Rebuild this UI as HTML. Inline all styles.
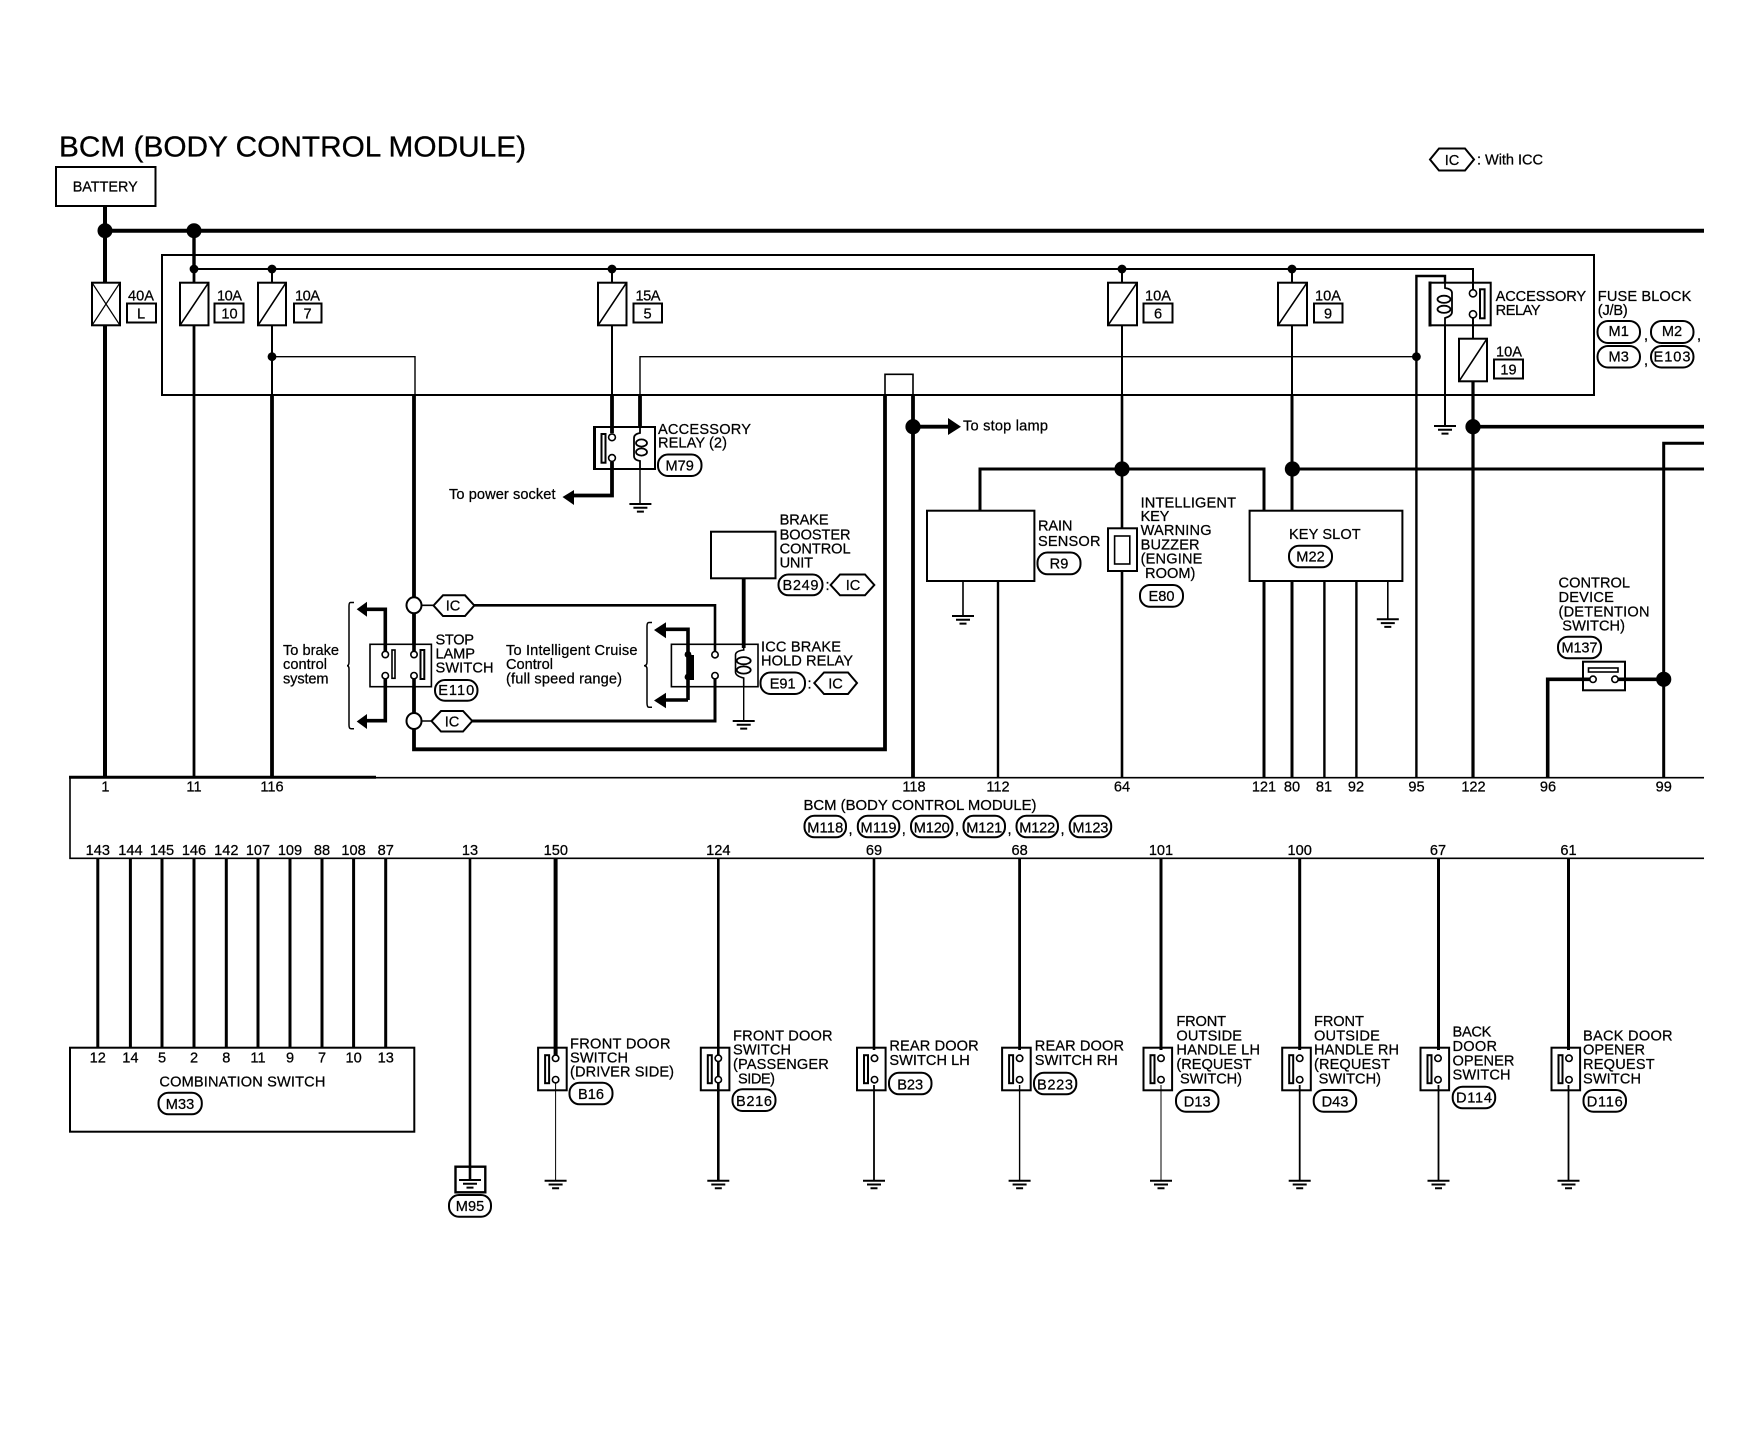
<!DOCTYPE html>
<html><head><meta charset="utf-8"><title>BCM</title>
<style>
html,body{margin:0;padding:0;background:#fff;width:1750px;height:1456px;overflow:hidden}
svg{display:block}
text{font-family:"Liberation Sans",Arial,sans-serif;font-size:14.6px;fill:#000;stroke:#000;stroke-width:.25}
.m{text-anchor:middle}
.w{fill:none;stroke:#000}
.o{fill:#fff;stroke:#000;stroke-width:2}
.f{fill:#000;stroke:none}
</style></head><body>
<svg width="1750" height="1456" viewBox="0 0 1750 1456" xmlns="http://www.w3.org/2000/svg">
<defs>
<g id="g" class="w" stroke-width="2"><path d="M-11 0h22M-7 3.8h14M-3.5 7.6h7"/></g>
<g id="sw">
<rect x="-17.5" y="0" width="28.6" height="42.6" class="o" fill="none" style="fill:none"/>
<rect x="-10.5" y="7.5" width="4" height="28" class="w" stroke-width="2"/>
<circle cx="0" cy="10.6" r="3.2" fill="#fff" stroke="#000" stroke-width="1.6"/>
<circle cx="0" cy="32" r="3.2" fill="#fff" stroke="#000" stroke-width="1.6"/>
</g>
</defs>
<rect width="1750" height="1456" fill="#fff"/>

<!-- Title -->
<text x="59" y="156.7" textLength="467" lengthAdjust="spacingAndGlyphs" style="font-size:29px;stroke-width:.3">BCM (BODY CONTROL MODULE)</text>
<rect x="56" y="167" width="99.5" height="39" class="o" style="fill:none"/>
<text x="72.7" y="191.7" textLength="65" lengthAdjust="spacingAndGlyphs">BATTERY</text>
<polygon points="1430,159.5 1439,148.5 1465,148.5 1474,159.5 1465,170.5 1439,170.5" class="o"/>
<text x="1452" y="165" class="m">IC</text>
<text x="1477" y="164.5" textLength="66">: With ICC</text>

<!-- Fuse block box -->
<rect x="162" y="255" width="1432" height="140" class="o" style="fill:none"/>

<!-- Main buses -->
<g class="w">
<path stroke-width="4" d="M105 206V282.7M105 325.3V777.7M105 230.7H1704"/>
<path stroke-width="2" d="M194 269H1473V293M612 269V282.7M272 269V282.7M1122 269V282.7M1292 269V282.7"/>
<path stroke-width="3.4" d="M194 230.7V269"/>
<path stroke-width="2.8" d="M194 269V282.7M194 325.3V777.7"/>
<path stroke-width="2" d="M272 325.3V395M612 325.3V395M1122 325.3V395M1292 325.3V395"/>
<path stroke-width="3.8" d="M272 395V777.7"/>
<path stroke-width="1.4" d="M272 356.7H415V395M640 395V356.7H1416.4"/>
<path stroke-width="3.8" d="M414 395V645M414 686V749.3H885V395"/>
<path stroke-width="3.8" d="M640 395V427"/>
<path stroke-width="3.8" d="M612 395V433"/>
<path stroke-width="3.8" d="M612 462V495.5H572"/>
<path stroke-width="1.4" d="M640 469V504"/>
<path stroke-width="1.6" d="M885 395V374.3H913V395"/>
<path stroke-width="3.8" d="M913 395V777.7M913 426.7H950"/>
<path stroke-width="2.6" d="M1122 395V528M1122 571V777.7"/>
<path stroke-width="3" d="M980 510.7V469H1264V777.7"/>
<path stroke-width="3" d="M1292 395V777.7M1292 469H1704"/>
<path stroke-width="2.4" d="M998 581V777.7M1324.4 581V777.7M1356.4 581V777.7"/>
<path stroke-width="1.6" d="M963 581V616M1387.8 581V619"/>
<path stroke-width="2.4" d="M1416.4 777.7V276H1445V283"/>
<path stroke-width="2" d="M1445 325V426"/>
<path stroke-width="2" d="M1473 314V338.7"/>
<path stroke-width="3.2" d="M1473 381V777.7"/>
<path stroke-width="3.6" d="M1473 426.7H1704"/>
<path stroke-width="3" d="M1704 443.3H1663.7V777.7"/>
<path stroke-width="3.6" d="M1663.7 679.3H1625M1590 679.3H1547.7V777.7"/>
<!-- ICC -->
<path stroke-width="1.6" d="M421 605.3H434M421 721H432"/>
<path stroke-width="2.6" d="M474 605.3H715V651"/>
<path stroke-width="3" d="M472 721H715V679"/>
<path stroke-width="3.8" d="M743.7 578V648"/>
<path stroke-width="1.4" d="M743.7 680V721"/>
<path stroke-width="3.6" d="M385.3 650V609.3H365M385.3 680V720.7H365"/>
<path stroke-width="3.6" d="M688 700V629.3H664M688 700H664"/>
<path stroke-width="5" d="M691.5 655V680"/>
<path stroke-width="1.5" d="M354 602.5H350.5Q349 602.5 349 606V662Q349 665.7 347 665.7Q349 665.7 349 669V725Q349 728.7 351 728.7H354"/>
<path stroke-width="1.5" d="M652 622.5H649Q647 622.5 647 626V662Q647 665.7 644 665.7Q647 665.7 647 669V703Q647 707.3 649 707.3H652"/>
</g>

<!-- Junctions -->
<g class="f">
<circle cx="105" cy="230.7" r="7.5"/><circle cx="194" cy="230.7" r="7.5"/>
<circle cx="194" cy="269" r="4.4"/><circle cx="272" cy="269" r="4.4"/><circle cx="612" cy="269" r="4.4"/><circle cx="1122" cy="269" r="4.4"/><circle cx="1292" cy="269" r="4.4"/>
<circle cx="272" cy="356.7" r="4.4"/><circle cx="1416.4" cy="356.7" r="4.4"/>
<circle cx="913" cy="426.7" r="7.6"/><circle cx="1122" cy="469" r="7.6"/><circle cx="1292.4" cy="469" r="7.6"/><circle cx="1473" cy="426.7" r="7.6"/><circle cx="1663.7" cy="679.3" r="7.6"/>
<polygon points="948,418 961,426.7 948,435"/>
<polygon points="562.5,497 574,490 574,505"/>
<polygon points="356.7,609.3 367,601.7 367,616.7"/>
<polygon points="356.7,721.5 367,714 367,729"/>
<polygon points="654,630 666,622.3 666,638.3"/>
<polygon points="654,700.5 666,692.7 666,708.3"/>
</g>

<!-- Fuses -->
<g class="o" style="fill:#fff">
<rect x="92" y="282.7" width="28" height="42.6"/><rect x="180" y="282.7" width="28.5" height="42.6"/><rect x="258" y="282.7" width="28" height="42.6"/><rect x="598" y="282.7" width="28.5" height="42.6"/><rect x="1108" y="282.7" width="29" height="42.6"/><rect x="1278" y="282.7" width="29" height="42.6"/><rect x="1459" y="338.7" width="28" height="42.6"/>
</g>
<path class="w" stroke-width="1.3" d="M92 282.7L120 325.3M120 282.7L92 325.3"/>
<path class="w" stroke-width="1.6" d="M180 325.3L208.5 282.7M258 325.3L286 282.7M598 325.3L626.5 282.7M1108 325.3L1137 282.7M1278 325.3L1307 282.7M1459 381.3L1487 338.7"/>

<!-- Fuse labels -->
<g class="o" style="fill:none">
<rect x="127" y="303.5" width="29" height="19"/><rect x="214.5" y="303.5" width="29" height="19"/><rect x="294" y="303.5" width="27.5" height="19"/><rect x="633.5" y="303.5" width="28.5" height="19"/><rect x="1143.5" y="303.5" width="29" height="19"/><rect x="1314" y="303.5" width="28.5" height="19"/><rect x="1494" y="359.5" width="29" height="19"/>
</g>
<g class="m">
<text x="141" y="300.7" textLength="26">40A</text><text x="229.5" y="300.7" textLength="25">10A</text><text x="307.5" y="300.7" textLength="25">10A</text><text x="648" y="300.7" textLength="25">15A</text><text x="1158" y="300.7" textLength="26">10A</text><text x="1328" y="300.7" textLength="26">10A</text><text x="1509" y="356.7" textLength="26">10A</text>
<text x="141" y="318.3">L</text><text x="229.5" y="318.3">10</text><text x="307.5" y="318.3">7</text><text x="647.5" y="318.3">5</text><text x="1158" y="318.3">6</text><text x="1328" y="318.3">9</text><text x="1508.5" y="374.3">19</text>
</g>

<!-- Relay (2) -->
<rect x="594.5" y="427" width="60.5" height="42" class="w" stroke-width="2"/>
<path class="w" stroke-width="3" d="M594.5 426V470"/>
<rect x="601.5" y="434" width="4" height="28.7" class="w" stroke-width="2"/>
<circle cx="612" cy="437.3" r="3.4" fill="#fff" stroke="#000" stroke-width="1.6"/><circle cx="612" cy="458" r="3.4" fill="#fff" stroke="#000" stroke-width="1.6"/>
<path class="w" stroke-width="1.8" d="M640 427V433Q634 434 634 438V456Q634 460 640 461V469"/>
<ellipse cx="641.5" cy="443" rx="5.5" ry="3.6" class="w" stroke-width="1.8"/><ellipse cx="641.5" cy="452" rx="5.5" ry="3.6" class="w" stroke-width="1.8"/>
<use href="#g" x="640.4" y="504"/>
<text x="658" y="434" textLength="93">ACCESSORY</text><text x="658" y="447.7" textLength="69">RELAY (2)</text>
<rect x="658" y="454.5" width="43.5" height="21.5" rx="10" class="o" style="fill:none"/><text x="679.7" y="470.7" class="m">M79</text>
<text x="449" y="499" textLength="106.5">To power socket</text>
<text x="963" y="430.7" textLength="85">To stop lamp</text>

<!-- Accessory relay -->
<rect x="1430" y="282.7" width="60.7" height="42.6" class="w" stroke-width="2"/>
<path class="w" stroke-width="3" d="M1430 281.5V326.5"/>
<rect x="1480" y="289.3" width="4.6" height="29" class="w" stroke-width="2"/>
<circle cx="1473" cy="293.3" r="3.6" fill="#fff" stroke="#000" stroke-width="1.6"/><circle cx="1473" cy="314.3" r="3.6" fill="#fff" stroke="#000" stroke-width="1.6"/>
<path class="w" stroke-width="1.8" d="M1445 283V288Q1452 289 1452 293V312Q1452 316 1445 318V325"/>
<ellipse cx="1444" cy="299.3" rx="6.5" ry="3.6" class="w" stroke-width="1.8"/><ellipse cx="1444" cy="309.3" rx="6.5" ry="3.6" class="w" stroke-width="1.8"/>
<use href="#g" x="1445" y="426"/>
<text x="1495.6" y="301" textLength="90.5">ACCESSORY</text><text x="1495.6" y="315" textLength="45">RELAY</text>
<text x="1597.8" y="301" textLength="93.5">FUSE BLOCK</text><text x="1597.8" y="315" textLength="30">(J/B)</text>
<g class="o" style="fill:none"><rect x="1597.5" y="321" width="42.5" height="22" rx="10.5"/><rect x="1651" y="321" width="42.5" height="22" rx="10.5"/><rect x="1597.5" y="346" width="42.5" height="21.5" rx="10.5"/><rect x="1651" y="346" width="42.5" height="21.5" rx="10.5"/></g>
<g class="m"><text x="1618.7" y="336">M1</text><text x="1672" y="336">M2</text><text x="1618.7" y="361.7">M3</text><text x="1672" y="361.7" textLength="37">E103</text></g>
<text x="1644" y="340">,</text><text x="1697" y="340">,</text><text x="1644" y="365">,</text>

<!-- Stop lamp switch -->
<rect x="370" y="644.3" width="61.4" height="42.4" class="w" stroke-width="1.6" style="fill:#fff"/>
<path class="w" stroke-width="1.6" d="M385.3 650v3M414 650v3M385.3 676v6M414 676v6M715 648v4M715 676v5"/>
<rect x="392" y="650" width="3" height="28.3" class="w" stroke-width="1.6"/>
<rect x="420.5" y="650" width="3.8" height="29" class="w" stroke-width="2"/>
<g fill="#fff" stroke="#000" stroke-width="1.6"><circle cx="385.3" cy="654.5" r="3.2"/><circle cx="385.3" cy="675.7" r="3.2"/><circle cx="414" cy="654.5" r="3.2"/><circle cx="414" cy="675.7" r="3.2"/></g>
<path class="w" stroke-width="3.6" d="M385.3 644.5V651M385.3 679V687M414 644.5V651M414 679V687"/>
<ellipse cx="414" cy="605.3" rx="7.5" ry="8" fill="#fff" stroke="#000" stroke-width="2"/>
<ellipse cx="414" cy="721" rx="7.5" ry="8" fill="#fff" stroke="#000" stroke-width="2"/>
<polygon points="433.5,605.5 443,595.3 465,595.3 474.3,605.5 465,616 443,616" class="o"/><text x="453" y="610.7" class="m">IC</text>
<polygon points="431.5,721 441,711 463,711 472.3,721 463,731.5 441,731.5" class="o"/><text x="452" y="726.5" class="m">IC</text>
<text x="283" y="655" textLength="56">To brake</text><text x="283" y="669" textLength="44">control</text><text x="283" y="683.3" textLength="45.6">system</text>
<text x="435.5" y="644.3" textLength="38.5">STOP</text><text x="435.5" y="658.3" textLength="39.5">LAMP</text><text x="435.5" y="672.3" textLength="58">SWITCH</text>
<rect x="435" y="680" width="42.5" height="20.7" rx="10" class="o" style="fill:none"/><text x="456.2" y="695" class="m" textLength="36">E110</text>

<!-- ICC brake hold relay -->
<text x="506" y="655" textLength="131.5">To Intelligent Cruise</text><text x="506" y="669" textLength="47">Control</text><text x="506" y="683.3" textLength="116">(full speed range)</text>
<rect x="671.4" y="644.3" width="86.6" height="42.4" class="w" stroke-width="1.6"/>
<g fill="#fff" stroke="#000" stroke-width="1.6"><circle cx="715" cy="654.7" r="3.2"/><circle cx="715" cy="675.7" r="3.2"/></g>
<circle cx="688" cy="654.5" r="3.4" class="f"/><circle cx="688" cy="677" r="3.4" class="f"/>
<path class="w" stroke-width="1.6" d="M743.7 648V650Q735.5 651 735.5 655V672Q735.5 676 743.7 678V686"/>
<ellipse cx="743.7" cy="660.7" rx="7" ry="3.6" class="w" stroke-width="1.8"/><ellipse cx="743.7" cy="670" rx="7" ry="3.6" class="w" stroke-width="1.8"/>
<use href="#g" x="743.7" y="721"/>
<rect x="711" y="531.7" width="64.5" height="46.6" class="w" stroke-width="2" style="fill:#fff"/>
<text x="779.6" y="524.7" textLength="49">BRAKE</text><text x="779.6" y="539.3" textLength="71">BOOSTER</text><text x="779.6" y="553.3" textLength="71">CONTROL</text><text x="779.6" y="567.3" textLength="33.4">UNIT</text>
<rect x="778.5" y="574.5" width="44" height="20.8" rx="10" class="o" style="fill:none"/><text x="800.5" y="590" class="m" textLength="36">B249</text>
<text x="825.5" y="590">:</text>
<polygon points="830.6,585 840,574.5 865,574.5 874.3,585 865,595.3 840,595.3" class="o"/><text x="853" y="590" class="m">IC</text>
<text x="761" y="651.7" textLength="80">ICC BRAKE</text><text x="761" y="665.7" textLength="92">HOLD RELAY</text>
<rect x="760.5" y="672.5" width="44.5" height="21.5" rx="10" class="o" style="fill:none"/><text x="782.7" y="688.3" class="m">E91</text>
<text x="807.5" y="688.3">:</text>
<polygon points="814.3,683 824,672.5 848,672.5 857,683 848,694 824,694" class="o"/><text x="835.5" y="688.3" class="m">IC</text>

<!-- Rain sensor -->
<rect x="927" y="510.7" width="107.4" height="70.3" class="w" stroke-width="2"/>
<use href="#g" x="963" y="616"/>
<text x="1038" y="530.7" textLength="34.4">RAIN</text><text x="1038" y="546" textLength="62.5">SENSOR</text>
<rect x="1037.5" y="552.5" width="43" height="21.8" rx="10" class="o" style="fill:none"/><text x="1059" y="568.3" class="m">R9</text>

<!-- Buzzer -->
<rect x="1108" y="528.3" width="29" height="42.7" class="w" stroke-width="2"/>
<rect x="1114.6" y="536" width="15.2" height="28" class="w" stroke-width="1.6"/>
<text x="1140.6" y="507.3" textLength="95.4">INTELLIGENT</text><text x="1140.6" y="521" textLength="28.8">KEY</text><text x="1140.6" y="535" textLength="71">WARNING</text><text x="1140.6" y="549.3" textLength="59">BUZZER</text><text x="1140.6" y="563.7" textLength="61.8">(ENGINE</text><text x="1145" y="578" textLength="50.4">ROOM)</text>
<rect x="1140" y="585" width="43" height="21.7" rx="10" class="o" style="fill:none"/><text x="1161.5" y="601" class="m">E80</text>

<!-- Key slot -->
<rect x="1249.6" y="510.7" width="152.8" height="70.3" class="o"/>
<text x="1289" y="539" textLength="71.7">KEY SLOT</text>
<rect x="1289" y="545.7" width="43" height="21.6" rx="10" class="o" style="fill:none"/><text x="1310.5" y="561.7" class="m">M22</text>
<use href="#g" x="1387.8" y="619.3"/>

<!-- Detention switch -->
<rect x="1583" y="661.7" width="42" height="28.6" class="o"/>
<rect x="1588.5" y="668" width="29.5" height="4" class="w" stroke-width="1.6"/>
<g fill="#fff" stroke="#000" stroke-width="1.6"><circle cx="1593" cy="679.3" r="3.2"/><circle cx="1615" cy="679.3" r="3.2"/></g>
<path class="w" stroke-width="3.6" d="M1583 679.3H1590M1618 679.3H1625"/>
<text x="1558.5" y="587.7" textLength="71.5">CONTROL</text><text x="1558.5" y="602" textLength="55.3">DEVICE</text><text x="1558.5" y="616.3" textLength="91">(DETENTION</text><text x="1562.3" y="630.3" textLength="62.7">SWITCH)</text>
<rect x="1558" y="636.7" width="43" height="21.6" rx="10" class="o" style="fill:none"/><text x="1579.5" y="652.7" class="m" textLength="36">M137</text>

<!-- BCM -->
<path class="w" stroke-width="1.6" d="M376 777.7H1704"/>
<path class="w" stroke-width="3" d="M69 777.2H376"/>
<path class="w" stroke-width="1.6" d="M70 777V858.3H1704"/>
<g class="m">
<text x="105.4" y="791.5">1</text><text x="194" y="791.5">11</text><text x="272" y="791.5">116</text><text x="914" y="791.5">118</text><text x="998" y="791.5">112</text><text x="1122" y="791.5">64</text><text x="1264" y="791.5">121</text><text x="1292" y="791.5">80</text><text x="1324" y="791.5">81</text><text x="1356" y="791.5">92</text><text x="1416.5" y="791.5">95</text><text x="1473.5" y="791.5">122</text><text x="1548" y="791.5">96</text><text x="1663.7" y="791.5">99</text>
</g>
<text x="803.5" y="810" textLength="233" lengthAdjust="spacingAndGlyphs">BCM (BODY CONTROL MODULE)</text>
<g class="o" style="fill:none">
<rect x="804.5" y="815.7" width="41.5" height="21.6" rx="10"/><rect x="857.8" y="815.7" width="41.5" height="21.6" rx="10"/><rect x="911" y="815.7" width="41.5" height="21.6" rx="10"/><rect x="963.5" y="815.7" width="41.5" height="21.6" rx="10"/><rect x="1016.5" y="815.7" width="41.5" height="21.6" rx="10"/><rect x="1069.7" y="815.7" width="41.5" height="21.6" rx="10"/>
</g>
<g class="m">
<text x="825.2" y="832.3" textLength="36">M118</text><text x="878.5" y="832.3" textLength="36">M119</text><text x="931.8" y="832.3" textLength="36">M120</text><text x="984.2" y="832.3" textLength="36">M121</text><text x="1037.2" y="832.3" textLength="36">M122</text><text x="1090.4" y="832.3" textLength="36">M123</text>
</g>
<text x="848.5" y="834">,</text><text x="901.8" y="834">,</text><text x="955" y="834">,</text><text x="1007.5" y="834">,</text><text x="1060.5" y="834">,</text>
<g class="m">
<text x="97.8" y="855">143</text><text x="130.4" y="855">144</text><text x="162" y="855">145</text><text x="194" y="855">146</text><text x="226.3" y="855">142</text><text x="258" y="855">107</text><text x="290" y="855">109</text><text x="322" y="855">88</text><text x="353.6" y="855">108</text><text x="385.7" y="855">87</text><text x="470" y="855">13</text><text x="555.8" y="855">150</text><text x="718.3" y="855">124</text><text x="874" y="855">69</text><text x="1019.6" y="855">68</text><text x="1161" y="855">101</text><text x="1299.7" y="855">100</text><text x="1438" y="855">67</text><text x="1568.5" y="855">61</text>
</g>

<!-- Lower wires -->
<path class="w" stroke-width="3" d="M97.8 858V1048M130.4 858V1048M162 858V1048M194 858V1048M226.3 858V1048M258 858V1048M290 858V1048M322 858V1048M353.6 858V1048M385.7 858V1048"/>
<path class="w" stroke-width="2.6" d="M470 858V1180"/>
<path class="w" stroke-width="4" d="M555.6 858V1055"/>
<path class="w" stroke-width="1" d="M555.6 1082V1180.7"/>
<path class="w" stroke-width="2.6" d="M718.3 858V1180.7"/>
<path class="w" stroke-width="2.6" d="M874 858V1050"/>
<path class="w" stroke-width="1.8" d="M874 1085V1180.7"/>
<path class="w" stroke-width="2.8" d="M1019.6 858V1050"/>
<path class="w" stroke-width="1.4" d="M1019.6 1085V1180.7"/>
<path class="w" stroke-width="3" d="M1161 858V1050M1299.7 858V1050M1438.5 858V1050M1568.5 858V1050"/>
<path class="w" stroke-width="1" d="M1161 1085V1180.7"/>
<path class="w" stroke-width="1.8" d="M1299.7 1085V1180.7M1438.5 1085V1180.7M1568.5 1085V1180.7"/>

<!-- Combination switch -->
<rect x="70" y="1047.7" width="344.3" height="84" class="w" stroke-width="2"/>
<g class="m">
<text x="97.8" y="1062.3">12</text><text x="130.4" y="1062.3">14</text><text x="162" y="1062.3">5</text><text x="194" y="1062.3">2</text><text x="226.3" y="1062.3">8</text><text x="258" y="1062.3">11</text><text x="290" y="1062.3">9</text><text x="322" y="1062.3">7</text><text x="353.6" y="1062.3">10</text><text x="385.7" y="1062.3">13</text>
</g>
<text x="159.4" y="1086.7" textLength="166">COMBINATION SWITCH</text>
<rect x="158.5" y="1092.7" width="43.3" height="21.6" rx="10" class="o" style="fill:none"/><text x="180" y="1109" class="m">M33</text>

<!-- M95 ground -->
<rect x="455.5" y="1166.7" width="29.8" height="25.6" class="w" stroke-width="2.4"/>
<use href="#g" x="470" y="1180"/>
<rect x="449" y="1195" width="42" height="21.7" rx="10" class="o" style="fill:none"/><text x="470" y="1211" class="m">M95</text>

<!-- Door switches -->
<use href="#sw" x="555.6" y="1047.7"/><use href="#g" x="555.6" y="1180.7"/>
<use href="#sw" x="718.3" y="1047.7"/><use href="#g" x="718.3" y="1180.7"/>
<use href="#sw" x="874.5" y="1047.7"/><use href="#g" x="874" y="1180.7"/>
<use href="#sw" x="1019.6" y="1047.7"/><use href="#g" x="1019.6" y="1180.7"/>
<use href="#sw" x="1161" y="1047.7"/><use href="#g" x="1161" y="1180.7"/>
<use href="#sw" x="1299.7" y="1047.7"/><use href="#g" x="1299.7" y="1180.7"/>
<use href="#sw" x="1438" y="1047.7"/><use href="#g" x="1438.5" y="1180.7"/>
<use href="#sw" x="1569" y="1047.7"/><use href="#g" x="1568.5" y="1180.7"/>

<text x="570" y="1048.3" textLength="100.5">FRONT DOOR</text><text x="570" y="1062.3" textLength="58">SWITCH</text><text x="570" y="1076.7" textLength="104">(DRIVER SIDE)</text>
<rect x="569.5" y="1082.7" width="43" height="21.6" rx="10" class="o" style="fill:none"/><text x="591" y="1099" class="m">B16</text>

<text x="733" y="1040.7" textLength="99.6">FRONT DOOR</text><text x="733" y="1054.7" textLength="58">SWITCH</text><text x="733" y="1069" textLength="95.8">(PASSENGER</text><text x="738" y="1083.3" textLength="37">SIDE)</text>
<rect x="732.5" y="1089.3" width="43" height="21.7" rx="10" class="o" style="fill:none"/><text x="754" y="1106" class="m" textLength="36">B216</text>

<text x="889.4" y="1050.7" textLength="89.3">REAR DOOR</text><text x="889.4" y="1065" textLength="80.4">SWITCH LH</text>
<rect x="889" y="1072.7" width="42.5" height="21.6" rx="10" class="o" style="fill:none"/><text x="910.2" y="1089.3" class="m">B23</text>

<text x="1034.8" y="1050.7" textLength="89.2">REAR DOOR</text><text x="1034.8" y="1065" textLength="83">SWITCH RH</text>
<rect x="1034" y="1072.7" width="42.3" height="21.6" rx="10" class="o" style="fill:none"/><text x="1055" y="1089.3" class="m" textLength="36">B223</text>

<text x="1176.4" y="1026" textLength="49.6">FRONT</text><text x="1176.4" y="1040.3" textLength="65.6">OUTSIDE</text><text x="1176.4" y="1054.7" textLength="83.6">HANDLE LH</text><text x="1176.4" y="1069" textLength="75.3">(REQUEST</text><text x="1180" y="1083.3" textLength="62">SWITCH)</text>
<rect x="1176" y="1090" width="42.5" height="21.7" rx="10" class="o" style="fill:none"/><text x="1197.2" y="1106.7" class="m">D13</text>

<text x="1314" y="1026" textLength="49.9">FRONT</text><text x="1314" y="1040.3" textLength="65.8">OUTSIDE</text><text x="1314" y="1054.7" textLength="85">HANDLE RH</text><text x="1314" y="1069" textLength="76">(REQUEST</text><text x="1318.6" y="1083.3" textLength="62.4">SWITCH)</text>
<rect x="1313.7" y="1090" width="42.5" height="21.7" rx="10" class="o" style="fill:none"/><text x="1335" y="1106.7" class="m">D43</text>

<text x="1452.5" y="1036.7" textLength="38.9">BACK</text><text x="1452.5" y="1051" textLength="44.5">DOOR</text><text x="1452.5" y="1065.3" textLength="61.9">OPENER</text><text x="1452.5" y="1079.3" textLength="58.1">SWITCH</text>
<rect x="1452.7" y="1086.7" width="42.5" height="21.6" rx="10" class="o" style="fill:none"/><text x="1474" y="1102.7" class="m" textLength="36">D114</text>

<text x="1583" y="1040.7" textLength="89.6">BACK DOOR</text><text x="1583" y="1054.7" textLength="62">OPENER</text><text x="1583" y="1069" textLength="71.7">REQUEST</text><text x="1583" y="1083.3" textLength="58">SWITCH</text>
<rect x="1583.5" y="1090" width="42.5" height="21.7" rx="10" class="o" style="fill:none"/><text x="1604.7" y="1106.7" class="m" textLength="36">D116</text>
</svg>
</body></html>
